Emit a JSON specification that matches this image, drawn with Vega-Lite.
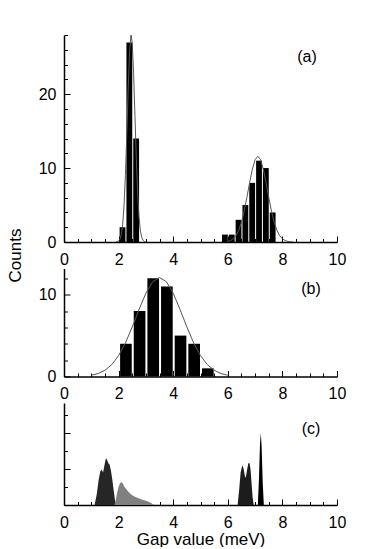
{
  "$schema": "https://vega.github.io/schema/vega-lite/v6.json",
  "padding": {"left": 6, "top": 34, "right": 5, "bottom": 0},
  "background": "white",
  "bounds": "flush",
  "spacing": 26.5,
  "datasets": {
    "barsA": [
      {"x0": 2.0, "x1": 2.25, "n": 2},
      {"x0": 2.25, "x1": 2.5, "n": 27},
      {"x0": 2.5, "x1": 2.75, "n": 14},
      {"x0": 5.75, "x1": 6.0, "n": 1},
      {"x0": 6.0, "x1": 6.25, "n": 1},
      {"x0": 6.25, "x1": 6.5, "n": 3},
      {"x0": 6.5, "x1": 6.75, "n": 5},
      {"x0": 6.75, "x1": 7.0, "n": 8},
      {"x0": 7.0, "x1": 7.25, "n": 11},
      {"x0": 7.25, "x1": 7.5, "n": 10},
      {"x0": 7.5, "x1": 7.75, "n": 4}
    ],
    "fitA": [
      {"s": "L", "x": 1.9, "y": 0.01},
      {"s": "L", "x": 2.0, "y": 0.13},
      {"s": "L", "x": 2.05, "y": 0.38},
      {"s": "L", "x": 2.1, "y": 1.03},
      {"s": "L", "x": 2.15, "y": 2.41},
      {"s": "L", "x": 2.2, "y": 4.99},
      {"s": "L", "x": 2.25, "y": 9.09},
      {"s": "L", "x": 2.3, "y": 14.57},
      {"s": "L", "x": 2.35, "y": 20.56},
      {"s": "L", "x": 2.4, "y": 25.54},
      {"s": "L", "x": 2.45, "y": 27.93},
      {"s": "L", "x": 2.46, "y": 28.0},
      {"s": "L", "x": 2.5, "y": 26.88},
      {"s": "L", "x": 2.55, "y": 22.77},
      {"s": "L", "x": 2.6, "y": 16.98},
      {"s": "L", "x": 2.65, "y": 11.15},
      {"s": "L", "x": 2.7, "y": 6.44},
      {"s": "L", "x": 2.75, "y": 3.28},
      {"s": "L", "x": 2.8, "y": 1.47},
      {"s": "L", "x": 2.85, "y": 0.58},
      {"s": "L", "x": 2.9, "y": 0.2},
      {"s": "L", "x": 2.95, "y": 0.06},
      {"s": "L", "x": 3.0, "y": 0.01},
      {"s": "R", "x": 6.0, "y": 0.08},
      {"s": "R", "x": 6.1, "y": 0.2},
      {"s": "R", "x": 6.2, "y": 0.43},
      {"s": "R", "x": 6.3, "y": 0.85},
      {"s": "R", "x": 6.4, "y": 1.57},
      {"s": "R", "x": 6.5, "y": 2.67},
      {"s": "R", "x": 6.6, "y": 4.18},
      {"s": "R", "x": 6.7, "y": 6.04},
      {"s": "R", "x": 6.8, "y": 8.04},
      {"s": "R", "x": 6.9, "y": 9.85},
      {"s": "R", "x": 7.0, "y": 11.14},
      {"s": "R", "x": 7.1, "y": 11.6},
      {"s": "R", "x": 7.2, "y": 11.14},
      {"s": "R", "x": 7.3, "y": 9.85},
      {"s": "R", "x": 7.4, "y": 8.04},
      {"s": "R", "x": 7.5, "y": 6.04},
      {"s": "R", "x": 7.6, "y": 4.18},
      {"s": "R", "x": 7.7, "y": 2.67},
      {"s": "R", "x": 7.8, "y": 1.57},
      {"s": "R", "x": 7.9, "y": 0.85},
      {"s": "R", "x": 8.0, "y": 0.43},
      {"s": "R", "x": 8.1, "y": 0.2},
      {"s": "R", "x": 8.2, "y": 0.08},
      {"s": "R", "x": 8.3, "y": 0.03},
      {"s": "R", "x": 8.4, "y": 0.01}
    ],
    "barsB": [
      {"x0": 2.0, "x1": 2.5, "n": 4},
      {"x0": 2.5, "x1": 3.0, "n": 8},
      {"x0": 3.0, "x1": 3.5, "n": 12},
      {"x0": 3.5, "x1": 4.0, "n": 11},
      {"x0": 4.0, "x1": 4.5, "n": 5},
      {"x0": 4.5, "x1": 5.0, "n": 4},
      {"x0": 5.0, "x1": 5.5, "n": 1}
    ],
    "fitB": [
      {"x": 1.0, "y": 0.16},
      {"x": 1.25, "y": 0.36},
      {"x": 1.5, "y": 0.76},
      {"x": 1.75, "y": 1.45},
      {"x": 2.0, "y": 2.55},
      {"x": 2.25, "y": 4.1},
      {"x": 2.5, "y": 6.06},
      {"x": 2.75, "y": 8.2},
      {"x": 3.0, "y": 10.18},
      {"x": 3.25, "y": 11.59},
      {"x": 3.5, "y": 12.1},
      {"x": 3.75, "y": 11.59},
      {"x": 4.0, "y": 10.18},
      {"x": 4.25, "y": 8.2},
      {"x": 4.5, "y": 6.06},
      {"x": 4.75, "y": 4.1},
      {"x": 5.0, "y": 2.55},
      {"x": 5.25, "y": 1.45},
      {"x": 5.5, "y": 0.76},
      {"x": 5.75, "y": 0.36},
      {"x": 6.0, "y": 0.16}
    ],
    "cA": [
      {"x": 1.12, "y": 0}, {"x": 1.2, "y": 0.3}, {"x": 1.27, "y": 0.7}, {"x": 1.33, "y": 0.93},
      {"x": 1.38, "y": 0.98}, {"x": 1.43, "y": 0.9}, {"x": 1.47, "y": 1.05}, {"x": 1.52, "y": 1.25},
      {"x": 1.55, "y": 1.29}, {"x": 1.59, "y": 1.22}, {"x": 1.63, "y": 1.15}, {"x": 1.67, "y": 1.12},
      {"x": 1.72, "y": 0.95}, {"x": 1.77, "y": 0.7}, {"x": 1.82, "y": 0.4}, {"x": 1.87, "y": 0.12},
      {"x": 1.9, "y": 0}
    ],
    "cB": [
      {"x": 1.85, "y": 0}, {"x": 1.9, "y": 0.15}, {"x": 1.95, "y": 0.35}, {"x": 2.0, "y": 0.5},
      {"x": 2.05, "y": 0.6}, {"x": 2.1, "y": 0.63}, {"x": 2.15, "y": 0.6}, {"x": 2.2, "y": 0.52},
      {"x": 2.3, "y": 0.42}, {"x": 2.4, "y": 0.33}, {"x": 2.5, "y": 0.27}, {"x": 2.6, "y": 0.23},
      {"x": 2.75, "y": 0.18}, {"x": 2.9, "y": 0.14}, {"x": 3.0, "y": 0.12}, {"x": 3.1, "y": 0.09},
      {"x": 3.2, "y": 0.05}, {"x": 3.3, "y": 0}
    ],
    "cC": [
      {"x": 6.36, "y": 0}, {"x": 6.42, "y": 0.45}, {"x": 6.47, "y": 0.9}, {"x": 6.53, "y": 1.1},
      {"x": 6.58, "y": 1.0}, {"x": 6.63, "y": 0.78}, {"x": 6.66, "y": 0.76}, {"x": 6.7, "y": 0.95},
      {"x": 6.75, "y": 1.15}, {"x": 6.79, "y": 1.17}, {"x": 6.83, "y": 1.0}, {"x": 6.87, "y": 0.6},
      {"x": 6.91, "y": 0.2}, {"x": 6.95, "y": 0}
    ],
    "cD": [
      {"x": 7.1, "y": 0}, {"x": 7.14, "y": 0.7}, {"x": 7.18, "y": 1.7}, {"x": 7.21, "y": 1.99},
      {"x": 7.24, "y": 1.6}, {"x": 7.28, "y": 0.6}, {"x": 7.32, "y": 0}
    ]
  },
  "vconcat": [
    {
      "width": 273,
      "height": 207,
      "resolve": {"axis": {"x": "independent", "y": "independent"}},
      "layer": [
        {
          "data": {"name": "barsA"},
          "mark": {"type": "bar", "color": "black", "binSpacing": 1},
          "encoding": {
            "x": {"field": "x0", "type": "quantitative", "bin": "binned", "scale": {"domain": [0, 10], "nice": false},
              "axis": {"orient": "bottom", "values": [0, 2, 4, 6, 8, 10], "title": null, "tickSize": -6, "labelPadding": 15}},
            "x2": {"field": "x1"},
            "y": {"field": "n", "type": "quantitative", "scale": {"domain": [0, 28], "nice": false},
              "axis": {"orient": "left", "values": [0, 10, 20], "title": "Counts", "titleX": -40, "titleY": 220, "tickSize": -6, "labelPadding": 14}}
          }
        },
        {
          "data": {"name": "fitA"},
          "mark": {"type": "line", "color": "#555555", "strokeWidth": 1, "clip": true},
          "encoding": {
            "x": {"field": "x", "type": "quantitative",
              "axis": {"orient": "bottom", "values": [0.5, 1, 1.5, 2.5, 3, 3.5, 4.5, 5, 5.5, 6.5, 7, 7.5, 8.5, 9, 9.5], "labels": false, "domain": false, "title": null, "tickSize": -3.5}},
            "y": {"field": "y", "type": "quantitative",
              "axis": {"orient": "left", "values": [2, 4, 6, 8, 12, 14, 16, 18, 22, 24, 26, 28], "labels": false, "domain": false, "title": null, "tickSize": -3.5}},
            "detail": {"field": "s"}
          }
        },
        {
          "data": {"values": [{"x": 8.9, "y": 25, "t": "(a)"}]},
          "mark": {"type": "text", "fontSize": 16, "font": "Liberation Sans", "color": "black"},
          "encoding": {
            "x": {"field": "x", "type": "quantitative", "axis": null},
            "y": {"field": "y", "type": "quantitative", "axis": null},
            "text": {"field": "t"}
          }
        }
      ]
    },
    {
      "width": 273,
      "height": 108,
      "resolve": {"axis": {"x": "independent", "y": "independent"}},
      "layer": [
        {
          "data": {"name": "barsB"},
          "mark": {"type": "bar", "color": "black", "binSpacing": 2},
          "encoding": {
            "x": {"field": "x0", "type": "quantitative", "bin": "binned", "scale": {"domain": [0, 10], "nice": false},
              "axis": {"orient": "bottom", "values": [0, 2, 4, 6, 8, 10], "title": null, "tickSize": -6, "labelPadding": 15}},
            "x2": {"field": "x1"},
            "y": {"field": "n", "type": "quantitative", "scale": {"domain": [0, 13.2], "nice": false},
              "axis": {"orient": "left", "values": [0, 10], "title": null, "tickSize": -6, "labelPadding": 14}}
          }
        },
        {
          "data": {"name": "fitB"},
          "mark": {"type": "line", "color": "#555555", "strokeWidth": 1, "clip": true},
          "encoding": {
            "x": {"field": "x", "type": "quantitative",
              "axis": {"orient": "bottom", "values": [0.5, 1, 1.5, 2.5, 3, 3.5, 4.5, 5, 5.5, 6.5, 7, 7.5, 8.5, 9, 9.5], "labels": false, "domain": false, "title": null, "tickSize": -3.5}},
            "y": {"field": "y", "type": "quantitative",
              "axis": {"orient": "left", "values": [2, 4, 6, 8, 12], "labels": false, "domain": false, "title": null, "tickSize": -3.5}}
          }
        },
        {
          "data": {"values": [{"x": 9.05, "y": 10.7, "t": "(b)"}]},
          "mark": {"type": "text", "fontSize": 16, "font": "Liberation Sans", "color": "black"},
          "encoding": {
            "x": {"field": "x", "type": "quantitative", "axis": null},
            "y": {"field": "y", "type": "quantitative", "axis": null},
            "text": {"field": "t"}
          }
        }
      ]
    },
    {
      "width": 273,
      "height": 102,
      "resolve": {"axis": {"x": "independent", "y": "independent"}},
      "layer": [
        {
          "data": {"name": "cA"},
          "mark": {"type": "area", "color": "#262626"},
          "encoding": {
            "x": {"field": "x", "type": "quantitative", "scale": {"domain": [0, 10], "nice": false},
              "axis": {"orient": "bottom", "values": [0, 2, 4, 6, 8, 10], "title": "Gap value (meV)", "titlePadding": 1, "tickSize": -6, "labelPadding": 15}},
            "y": {"field": "y", "type": "quantitative", "stack": null, "scale": {"domain": [0, 2.82], "nice": false},
              "axis": {"orient": "left", "values": [0, 1, 2], "labels": false, "title": null, "tickSize": -6}}
          }
        },
        {
          "data": {"name": "cB"},
          "mark": {"type": "area", "color": "#808080"},
          "encoding": {
            "x": {"field": "x", "type": "quantitative",
              "axis": {"orient": "bottom", "values": [0.5, 1, 1.5, 2.5, 3, 3.5, 4.5, 5, 5.5, 6.5, 7, 7.5, 8.5, 9, 9.5], "labels": false, "domain": false, "title": null, "tickSize": -3.5}},
            "y": {"field": "y", "type": "quantitative", "stack": null,
              "axis": {"orient": "left", "values": [0.5, 1.5, 2.5], "labels": false, "domain": false, "title": null, "tickSize": -3.5}}
          }
        },
        {
          "data": {"name": "cC"},
          "mark": {"type": "area", "color": "#1c1c1c"},
          "encoding": {
            "x": {"field": "x", "type": "quantitative", "axis": null},
            "y": {"field": "y", "type": "quantitative", "stack": null, "axis": null}
          }
        },
        {
          "data": {"name": "cD"},
          "mark": {"type": "area", "color": "#000000"},
          "encoding": {
            "x": {"field": "x", "type": "quantitative", "axis": null},
            "y": {"field": "y", "type": "quantitative", "stack": null, "axis": null}
          }
        },
        {
          "data": {"values": [{"x": 9.05, "y": 2.11, "t": "(c)"}]},
          "mark": {"type": "text", "fontSize": 16, "font": "Liberation Sans", "color": "black"},
          "encoding": {
            "x": {"field": "x", "type": "quantitative", "axis": null},
            "y": {"field": "y", "type": "quantitative", "axis": null},
            "text": {"field": "t"}
          }
        }
      ]
    }
  ],
  "config": {
    "view": {"stroke": null},
    "font": "Liberation Sans",
    "axis": {
      "grid": false,
      "labelFont": "Liberation Sans",
      "labelFontSize": 16,
      "labelColor": "black",
      "labelOverlap": false,
      "labelFlush": false,
      "labelBound": false,
      "domainColor": "black",
      "domainWidth": 1.5,
      "tickColor": "black",
      "tickWidth": 1,
      "titleFont": "Liberation Sans",
      "titleFontSize": 17,
      "titleFontWeight": "normal",
      "titleColor": "black"
    }
  }
}
